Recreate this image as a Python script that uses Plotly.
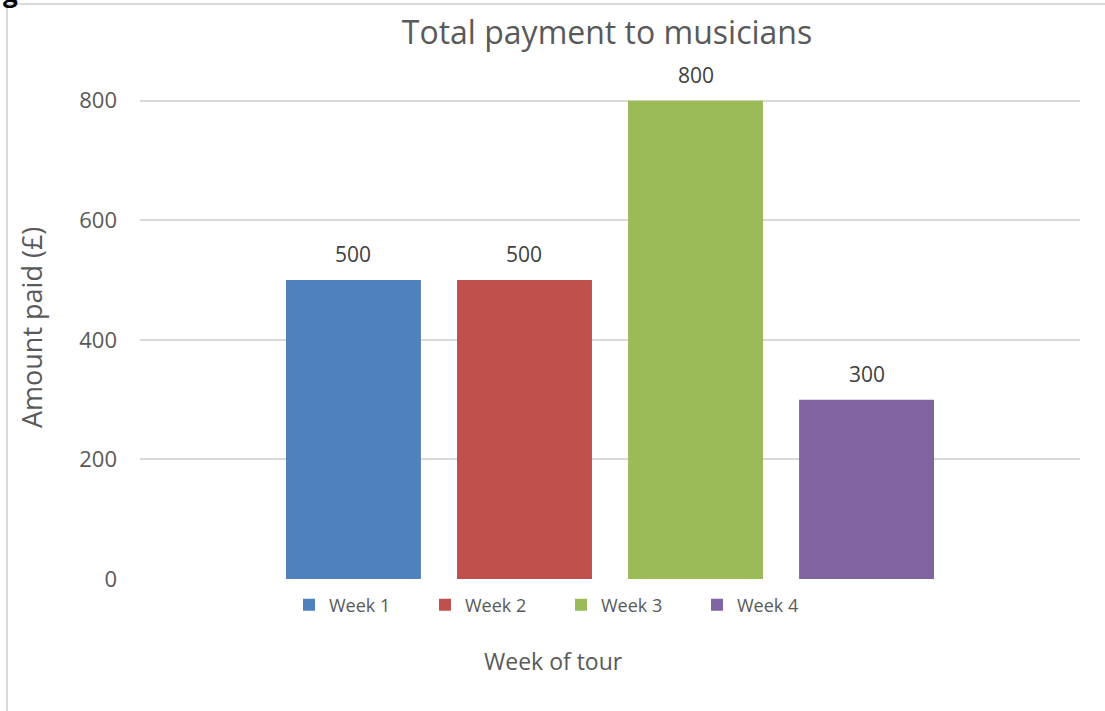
import plotly.graph_objects as go

weeks = ["Week 1", "Week 2", "Week 3", "Week 4"]
amounts = [500, 500, 800, 300]
colors = ["#4F81BD", "#C0504D", "#9BBB59", "#8064A2"]
y_ticks = [0, 200, 400, 600, 800]

FONT = "Open Sans"
W, H = 1105, 711
L, R, T, B = 140, 25, 41, 132
pw, ph = W - L - R, H - T - B

fig = go.Figure()
for name, val, col in zip(weeks, amounts, colors):
    fig.add_trace(go.Bar(
        x=[name], y=[val], name=name, width=0.789,
        marker=dict(color=col, line=dict(width=0)),
    ))
    fig.add_annotation(x=name, y=val, xref="x", yref="y", text=str(val), showarrow=False,
                       yanchor="middle", yshift=26,
                       font=dict(family=FONT, size=21, color="#404040"))

def px_x(p):
    return (p - L) / pw

def px_y(p):
    return (H - B - p) / ph

fig.update_layout(
    width=W, height=H,
    margin=dict(l=L, r=R, t=T, b=B),
    paper_bgcolor="white", plot_bgcolor="white",
    barmode="overlay",
    title=dict(text="Total payment to musicians", xref="container", x=607 / W, xanchor="center",
               yref="container", y=1 - 33 / H, yanchor="middle",
               font=dict(family=FONT, size=32, color="#595959")),
    font=dict(family=FONT, color="#595959"),
    xaxis=dict(type="category", categoryorder="array", categoryarray=weeks,
               range=[-1.248, 4.248], showticklabels=False, showgrid=False,
               zeroline=False, showline=False, ticks=""),
    yaxis=dict(range=[0, 900], tickvals=y_ticks, showgrid=True, gridcolor="#D9D9D9", gridwidth=1.5,
               zeroline=False, showline=False, ticks="", ticklabelstandoff=22,
               tickfont=dict(family=FONT, size=22, color="#595959")),
    legend=dict(orientation="h", x=0.5 - 49 / pw, xanchor="center", y=px_y(605), yanchor="middle",
                entrywidth=91, entrywidthmode="pixels", itemwidth=30,
                font=dict(family=FONT, size=18, color="#595959"), traceorder="normal"),
    showlegend=True,
)

fig.add_annotation(text="Amount paid (£)", xref="paper", yref="paper", x=px_x(31), y=px_y(328),
                   textangle=-90, showarrow=False, xanchor="center", yanchor="middle",
                   font=dict(family=FONT, size=27, color="#595959"))
fig.add_annotation(text="Week of tour", xref="paper", yref="paper", x=px_x(553), y=px_y(661),
                   showarrow=False, xanchor="center", yanchor="middle",
                   font=dict(family=FONT, size=23, color="#595959"))
fig.add_annotation(text="<b>g</b>", xref="paper", yref="paper", x=px_x(1), y=px_y(-8),
                   showarrow=False, xanchor="left", yanchor="middle",
                   font=dict(family=FONT, size=26, color="black"))

# chart-area border (left and top edges)
fig.add_shape(type="line", xref="paper", yref="paper", x0=px_x(7), x1=px_x(7), y0=px_y(4), y1=px_y(715),
              line=dict(color="#D9D9D9", width=2))
fig.add_shape(type="line", xref="paper", yref="paper", x0=px_x(7), x1=px_x(1110), y0=px_y(4), y1=px_y(4),
              line=dict(color="#D9D9D9", width=2))

fig.write_html("out.html", config={"displayModeBar": False},
               post_script="document.body.style.margin='0';document.body.style.overflow='hidden';")
